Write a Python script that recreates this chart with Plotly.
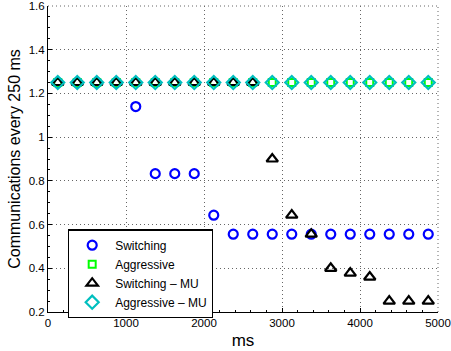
import plotly.graph_objects as go

times = [125 + 250 * k for k in range(20)]
switching = [1.25, 1.25, 1.25, 1.25, 1.14, 0.833, 0.833, 0.833, 0.643, 0.556,
             0.556, 0.556, 0.556, 0.556, 0.556, 0.556, 0.556, 0.556, 0.556, 0.556]
aggressive = [1.25] * 20
switching_mu = [1.25, 1.25, 1.25, 1.25, 1.25, 1.25, 1.25, 1.25, 1.25, 1.25,
                1.25, 0.9, 0.643, 0.556, 0.4, 0.378, 0.36, 0.25, 0.25, 0.25]
aggressive_mu = [1.25] * 20

x_ticks = [0, 1000, 2000, 3000, 4000, 5000]
y_ticks = [0.2, 0.4, 0.6, 0.8, 1.0, 1.2, 1.4, 1.6]
y_labels = ["0.2", "0.4", "0.6", "0.8", "1", "1.2", "1.4", "1.6"]

fig = go.Figure()
fig.add_trace(go.Scatter(x=times, y=switching, mode="markers", name="Switching",
                         marker=dict(symbol="circle-open", size=9, color="#0000ff",
                                     line=dict(width=2.2, color="#0000ff"))))
fig.add_trace(go.Scatter(x=times, y=aggressive, mode="markers", name="Aggressive",
                         marker=dict(symbol="square-open", size=7, color="#00ff00",
                                     line=dict(width=2, color="#00ff00"))))
fig.add_trace(go.Scatter(x=times, y=switching_mu, mode="markers", name="Switching \u2013 MU",
                         marker=dict(symbol="triangle-up-open", size=10, color="#000000",
                                     line=dict(width=2.2, color="#000000"))))
fig.add_trace(go.Scatter(x=times, y=aggressive_mu, mode="markers", name="Aggressive \u2013 MU",
                         marker=dict(symbol="diamond-open", size=10, color="#00bfbf",
                                     line=dict(width=2.2, color="#00bfbf"))))

grid_col = "#666666"
grid_dash = "1px,3px"
# top and right dotted border (grid lines at range edges)
fig.add_shape(type="line", xref="paper", yref="paper", x0=0, x1=1, y0=1, y1=1,
              line=dict(color=grid_col, width=1, dash=grid_dash))
fig.add_shape(type="line", xref="paper", yref="paper", x0=1, x1=1, y0=0, y1=1,
              line=dict(color=grid_col, width=1, dash=grid_dash))

font_family = "Liberation Sans, Arial, sans-serif"
fig.update_layout(
    width=451, height=351,
    margin=dict(l=48, r=13, t=6, b=39),
    paper_bgcolor="white", plot_bgcolor="white",
    font=dict(family=font_family, size=12, color="black"),
    showlegend=True,
    legend=dict(x=0.051, y=0.27, xanchor="left", yanchor="top",
                bordercolor="black", borderwidth=1.3, bgcolor="white",
                font=dict(size=12), tracegroupgap=0, itemwidth=36),
    xaxis=dict(range=[0, 5000], tickvals=x_ticks, ticktext=[str(v) for v in x_ticks],
               automargin=False,
               showgrid=True, gridcolor=grid_col, griddash=grid_dash, gridwidth=1,
               showline=True, linecolor="black", linewidth=1, mirror=False,
               ticks="inside", ticklen=4, tickcolor="black", ticklabeloverflow="allow",
               minor=dict(dtick=200, ticks="inside", ticklen=2, tickcolor="black", showgrid=False),
               zeroline=False,
               title=dict(text="ms", font=dict(size=17), standoff=6),
               tickfont=dict(size=11.5)),
    yaxis=dict(range=[0.2, 1.6], tickvals=y_ticks, ticktext=y_labels,
               automargin=False,
               showgrid=True, gridcolor=grid_col, griddash=grid_dash, gridwidth=1,
               showline=True, linecolor="black", linewidth=1, mirror=False,
               ticks="inside", ticklen=4, tickcolor="black", ticklabeloverflow="allow",
               minor=dict(dtick=0.05, ticks="inside", ticklen=2, tickcolor="black", showgrid=False),
               zeroline=False,
               title=dict(text="Communications every 250 ms", font=dict(size=16), standoff=4),
               tickfont=dict(size=11.5)),
)

fig.write_html("out.html")
